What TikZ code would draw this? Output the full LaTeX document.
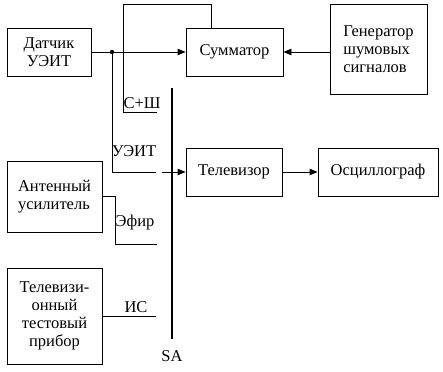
\documentclass[tikz,border=0pt]{standalone}
\usepackage{fontspec}
\setmainfont{Liberation Serif}
\newfontfamily\tnr{Liberation Serif}
\usetikzlibrary{arrows.meta}
\begin{document}
\begin{tikzpicture}[x=1pt,y=-1pt,
  box/.style={draw,line width=0.9pt,inner sep=0pt,align=center,font=\tnr\fontsize{16.5}{18}\selectfont},
  lbl/.style={inner sep=0pt,font=\tnr\fontsize{16.5}{18}\selectfont},
  wire/.style={line width=0.9pt},
  arr/.style={wire,-{Triangle[length=8pt,width=6.5pt]}}]
\useasboundingbox (0,0) rectangle (443,371);
\node[box,minimum width=84pt,minimum height=48pt] (dat) at (49,52) {Датчик\\УЭИТ};
\node[box,minimum width=97pt,minimum height=48pt] (sum) at (234.5,52) {Сумматор};
\node[box,minimum width=97pt,minimum height=90pt,align=left] (gen) at (378.5,49) {Генератор\\шумовых\\сигналов};
\node[box,minimum width=96pt,minimum height=48pt] (tv) at (234,172) {Телевизор};
\node[box,minimum width=120pt,minimum height=48pt] (osc) at (378,172) {Осциллограф};
\node[box,minimum width=95pt,minimum height=71pt,align=left] (ant) at (54.5,196.5) {Антенный\\усилитель};
\node[box,minimum width=95pt,minimum height=96pt] (tst) at (54.5,316) {Телевизи-\\онный\\тестовый\\прибор};
% switch bar
\coordinate (sat) at (172,88);
\coordinate (sab) at (172,339);
\draw[line width=2pt] (sat) -- (sab);
\node[lbl] (sa) at (172,356) {SA};
% junction
\coordinate (j) at (112,52);
\fill (j) circle (2.2pt);
\draw[arr] (dat.east) -- (sum.west);
\draw[arr] (gen.west |- sum.east) -- (sum.east);
% summator output to C+Sh contact
\coordinate (cs) at (157,112);
\draw[wire] (211,28) -- (211,4) -- (123,4) -- (123,112) -- (cs);
\node[lbl] (csl) at (142,103) {С+Ш};
% UEIT contact
\coordinate (ue) at (156,172);
\draw[wire] (j) -- (112,172) -- (ue);
\node[lbl] (uel) at (134,151) {УЭИТ};
\coordinate (sw) at (162,172);
\draw[arr] (sw) -- (tv.west);
\draw[arr] (tv.east) -- (osc.west);
% antenna contact
\coordinate (ef) at (157,244);
\draw[wire] (ant.east |- 0,196) -- (115,196) -- (115,244) -- (ef);
\node[lbl] (efl) at (135,223) {Эфир};
% test signal contact
\coordinate (is) at (156,316);
\draw[wire] (tst.east) -- (is);
\node[lbl] (isl) at (136,307) {ИС};
\end{tikzpicture}
\end{document}
